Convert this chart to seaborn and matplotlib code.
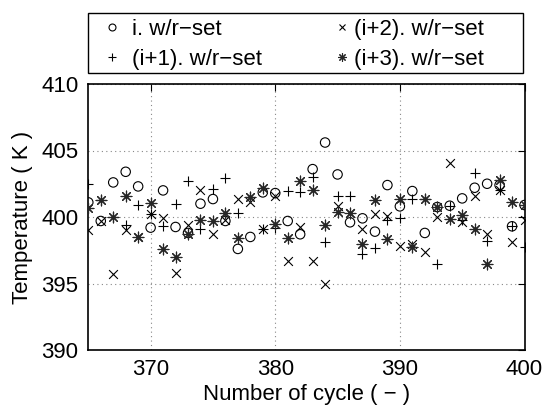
import numpy as np
import pandas as pd
import matplotlib
matplotlib.use("Agg")
import matplotlib.pyplot as plt
from matplotlib.lines import Line2D
from matplotlib.patches import Rectangle
import seaborn as sns

cycles = list(range(365, 401))

temp_i = [401.1, 399.7, 402.6, 403.4, 402.3, 399.2, 402.0, 399.25, 398.8, 401.0,
          401.35, 399.7, 397.6, 398.5, 401.85, 401.8, 399.7, 398.7, 403.6, 405.6,
          403.2, 399.6, 399.9, 398.9, 402.4, 400.8, 401.95, 398.8, 400.75, 400.85,
          401.4, 402.2, 402.5, 402.4, 399.3, 400.9]
temp_i1 = [402.5, 401.3, 400.0, 399.4, 400.9, 400.2, 399.3, 401.0, 402.7, 399.1,
           402.1, 402.9, 400.3, 401.5, 399.1, 399.15, 401.95, 401.9, 403.0, 398.1,
           401.6, 401.6, 397.2, 397.7, 399.8, 399.9, 401.35, 401.35, 396.45, 400.85,
           399.8, 403.3, 398.2, 402.0, 399.3, 397.75]
temp_i2 = [399.0, 399.7, 395.7, 399.0, 398.5, 400.2, 399.9, 395.8, 399.4, 402.0,
           398.7, 399.8, 401.35, 401.1, 399.1, 401.55, 396.7, 399.25, 396.7, 395.0,
           400.85, 400.3, 399.1, 400.2, 400.05, 397.85, 397.95, 397.4, 400.0, 404.05,
           399.65, 401.6, 398.7, 402.0, 398.1, 399.8]
temp_i3 = [400.7, 401.3, 400.0, 401.6, 398.5, 401.05, 397.6, 397.0, 398.7, 399.75,
           399.7, 400.3, 398.4, 401.5, 402.2, 399.45, 398.4, 402.7, 402.05, 399.4,
           400.4, 400.3, 398.0, 401.3, 398.35, 401.35, 397.75, 401.35, 400.75, 399.85,
           400.15, 399.1, 396.45, 402.75, 401.1, 400.9]

series_names = ["i. w/r\u2212set", "(i+1). w/r\u2212set", "(i+2). w/r\u2212set", "(i+3). w/r\u2212set"]
series_vals = [temp_i, temp_i1, temp_i2, temp_i3]

df = pd.concat([pd.DataFrame({"cycle": cycles, "temp": v, "series": n})
                for n, v in zip(series_names, series_vals)], ignore_index=True)

sns.set_style("white")
plt.rcParams["font.family"] = ["Liberation Sans", "DejaVu Sans"]
plt.rcParams["text.color"] = "k"
plt.rcParams["axes.labelcolor"] = "k"
plt.rcParams["xtick.color"] = "k"
plt.rcParams["ytick.color"] = "k"

FS = 16
W, H = 545, 409
fig = plt.figure(figsize=(W / 100, H / 100), dpi=100)
ax = fig.add_axes([88.3 / W, 1 - 350 / H, (524.5 - 88.3) / W, (350 - 84) / H])

marker_styles = {
    series_names[0]: dict(marker="o", facecolor="none", edgecolor="k", linewidth=0.8, s=46),
    series_names[1]: dict(marker="+", color="k", linewidth=0.8, s=60),
    series_names[2]: dict(marker="x", color="k", linewidth=0.8, s=40),
    series_names[3]: dict(marker=(8, 2, 0), color="0.15", linewidth=0.85, s=60),
}
for n in series_names:
    sub = df[df["series"] == n]
    sns.scatterplot(data=sub, x="cycle", y="temp", ax=ax, legend=False, zorder=3,
                    **marker_styles[n])

h_circle = Line2D([], [], ls="none", marker="o", mfc="none", mec="k", ms=5, mew=0.8)
h_plus = Line2D([], [], ls="none", marker="+", color="k", ms=6, mew=0.8)
h_x = Line2D([], [], ls="none", marker="x", color="k", ms=4.5, mew=0.8)
h_star = Line2D([], [], ls="none", marker=(8, 2, 0), color="0.15", ms=6, mew=0.8)

ax.set_xlim(365, 400)
ax.set_ylim(390, 410)
ax.set_xticks([370, 380, 390, 400])
ax.set_yticks([390, 395, 400, 405, 410])
ax.grid(True, linestyle=(0, (1, 3)), color="#888888", linewidth=0.8)
ax.tick_params(direction="in", length=5, width=0.8, top=True, right=True,
               labelsize=FS, colors="k")
ax.tick_params(axis="x", pad=6.5)
ax.tick_params(axis="y", pad=7)
for sp in ax.spines.values():
    sp.set_color("k")
    sp.set_linewidth(1.2)
    sp.set_visible(True)
ax.set_xlabel("Number of cycle ( \u2212 )", fontsize=FS, labelpad=3)
ax.set_ylabel("Temperature ( K )", fontsize=FS, labelpad=6)

# legend frame
fig.patches.append(Rectangle((88.3 / W, 1 - 72.7 / H), (523 - 88.3) / W, (72.7 - 13.3) / H,
                             transform=fig.transFigure, fill=False, edgecolor="k",
                             linewidth=1.0, zorder=5))
common = dict(loc="center left", frameon=False, fontsize=FS, handlelength=1.0,
              borderpad=0, borderaxespad=0, labelspacing=0.4)
leg1 = fig.legend([h_circle, h_plus], series_names[:2],
                  bbox_to_anchor=(100.6 / W, 1 - 44.5 / H), handletextpad=0.4, **common)
leg2 = fig.legend([h_x, h_star], series_names[2:],
                  bbox_to_anchor=(330.9 / W, 1 - 44.5 / H), handletextpad=0.06, **common)

fig.savefig("out.png", dpi=100)
